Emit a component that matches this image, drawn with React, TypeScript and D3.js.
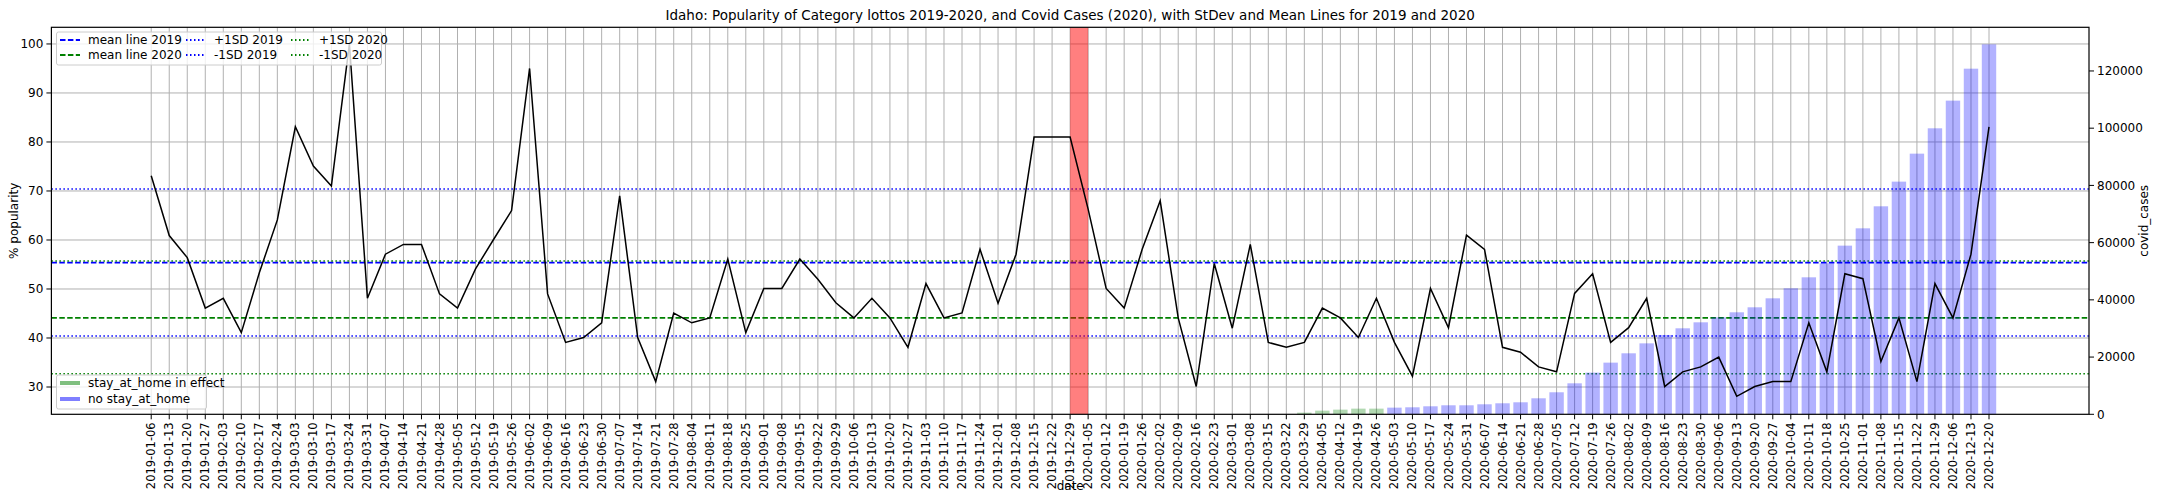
import React from "react";
import * as d3 from "d3";

const popularity = [73.1,60.9,56.4,46.1,48.1,41.1,53.3,64.1,83.1,75.1,71.0,100,48.1,57.1,59.1,59.1,49.0,46.1,54.1,60.1,66.0,95.0,49.0,39.1,40.1,43.1,69.0,40.1,31.1,45.1,43.1,44.1,
56.1,41.1,50.1,50.1,56.1,52.0,47.2,44.1,48.1,44.1,38.1,51.1,44.1,45.1,58.1,47.1,57.1,81.0,81.0,81.0,
66.3,50.1,46.1,58.1,68.0,44.1,30.1,55.2,42.0,59.1,39.1,38.1,39.1,46.1,44.1,40.1,48.1,39.1,32.2,
50.1,42.1,61.0,58.1,38.1,37.1,34.1,33.1,49.1,53.1,39.1,42.1,48.1,30.1,33.1,34.1,36.1,28.1,30.1,31.1,31.1,43.1,33.1,53.1,52.1,35.2,44.1,31.1,51.1,44.1,57.1,83.1];

// covid cases for 2020-03-29 .. 2020-12-20
const covidStart = "2020-03-29";
const covidCases = [580,1280,1630,1980,1980,2330,2446,2800,3150,3150,3500,3850,4200,5600,7700,10830,14560,18060,21320,24800,27730,30060,32150,33900,35650,37400,40540,44040,47880,52770,58950,65000,72700,81320,91100,99960,109630,120800,129300];
const stayStart = "2020-03-29";
const stayEnd = "2020-04-26";

const mean2019 = 55.4, plus2019 = 70.4, minus2019 = 40.4;
const mean2020 = 44.1, plus2020 = 55.7, minus2020 = 32.7;
const leftTicks = [30,40,50,60,70,80,90,100];
const rightTicks = [0,20000,40000,60000,80000,100000,120000];

const fmt = d3.timeFormat("%Y-%m-%d");
const dates: string[] = d3.timeWeek.range(new Date(2019,0,6), new Date(2020,11,21)).map(fmt);

export default function App() {
  const W = 2160, H = 504;
  const L = 51.4, R = 2089, T = 27.3, B = 414.3;
  const x = d3.scaleLinear().domain([-5.54, 107.55]).range([L, R]);
  const y = d3.scaleLinear().domain([24.43, 103.4]).range([B, T]);
  const y2 = d3.scaleLinear().domain([0, 135260]).range([B, T]);
  const ci = dates.indexOf(covidStart);
  const s0 = dates.indexOf(stayStart), s1 = dates.indexOf(stayEnd);
  const line = d3.line<number>().x((_, i) => x(i)).y(d => y(d));
  const bw = 0.8 * (x(1) - x(0));
  const font = "DejaVu Sans, sans-serif";
  const hl = (v: number, c: string, dash: string, w = 1.5) => (
    <line x1={L} x2={R} y1={y(v)} y2={y(v)} stroke={c} strokeWidth={w} strokeDasharray={dash} />
  );
  return (
    <svg width={W} height={H} style={{ position: "absolute", left: 0, top: 0 }} fontFamily={font}>
      <rect width={W} height={H} fill="#fff" />
      {dates.map((d, i) => <line key={d} x1={x(i)} x2={x(i)} y1={T} y2={B} stroke="#b0b0b0" strokeWidth={1} />)}
      {leftTicks.map(t => <line key={t} x1={L} x2={R} y1={y(t)} y2={y(t)} stroke="#b0b0b0" strokeWidth={1} />)}
      {hl(mean2019, "#0000ff", "5.5,2.4", 1.8)}
      {hl(mean2020, "#008000", "5.5,2.4", 1.8)}
      {hl(plus2019, "#0000ff", "1.5,2.5")}
      {hl(minus2019, "#0000ff", "1.5,2.5")}
      {hl(plus2020, "#008000", "1.5,2.5")}
      {hl(minus2020, "#008000", "1.5,2.5")}
      {covidCases.map((v, k) => {
        const i = ci + k;
        const g = i >= s0 && i <= s1;
        return <rect key={i} x={x(i) - bw / 2} width={bw} y={y2(v)} height={B - y2(v)} fill={g ? "#008000" : "#0000ff"} fillOpacity={0.3} />;
      })}
      <rect x={x(51)} width={x(52) - x(51)} y={T} height={B - T} fill="#ff0000" fillOpacity={0.5} />
      <path d={line(popularity) || ""} fill="none" stroke="#000" strokeWidth={1.5} />
      <rect x={L} y={T} width={R - L} height={B - T} fill="none" stroke="#000" strokeWidth={1.2} />
      {leftTicks.map(t => (
        <g key={t}>
          <line x1={L - 5} x2={L} y1={y(t)} y2={y(t)} stroke="#000" />
          <text x={L - 8} y={y(t)} dy="0.35em" textAnchor="end" fontSize={12}>{t}</text>
        </g>
      ))}
      {rightTicks.map(t => (
        <g key={t}>
          <line x1={R} x2={R + 5} y1={y2(t)} y2={y2(t)} stroke="#000" />
          <text x={R + 8} y={y2(t)} dy="0.35em" fontSize={12}>{t}</text>
        </g>
      ))}
      {dates.map((d, i) => (
        <g key={d}>
          <line x1={x(i)} x2={x(i)} y1={B} y2={B + 5} stroke="#000" />
          <text transform={`translate(${x(i)},${B + 8}) rotate(-90)`} dy="0.35em" textAnchor="end" fontSize={11.5}>{d}</text>
        </g>
      ))}
      <text x={(L + R) / 2} y={20} textAnchor="middle" fontSize={13.5}>Idaho: Popularity of Category lottos 2019-2020, and Covid Cases (2020), with StDev and Mean Lines for 2019 and 2020</text>
      <text x={(L + R) / 2} y={490} textAnchor="middle" fontSize={12}>date</text>
      <text transform={`translate(14,${(T + B) / 2}) rotate(-90)`} dy="0.35em" textAnchor="middle" fontSize={12}>% popularity</text>
      <text transform={`translate(2144,${(T + B) / 2}) rotate(-90)`} dy="0.35em" textAnchor="middle" fontSize={12}>covid_cases</text>
      <g>
        <rect x={56.5} y={32} width={325} height={33} fill="#fff" fillOpacity={0.8} stroke="#ccc" rx={2} />
        {[
          [60, 40, "#0000ff", "5.5,2.4", "mean line 2019"],
          [60, 55, "#008000", "5.5,2.4", "mean line 2020"],
          [186, 40, "#0000ff", "1.5,2.5", "+1SD 2019"],
          [186, 55, "#0000ff", "1.5,2.5", "-1SD 2019"],
          [291, 40, "#008000", "1.5,2.5", "+1SD 2020"],
          [291, 55, "#008000", "1.5,2.5", "-1SD 2020"],
        ].map(([lx, ly, c, da, t]) => (
          <g key={t as string}>
            <line x1={lx as number} x2={(lx as number) + 20} y1={ly as number} y2={ly as number} stroke={c as string} strokeWidth={1.8} strokeDasharray={da as string} />
            <text x={(lx as number) + 28} y={ly as number} dy="0.35em" fontSize={12}>{t}</text>
          </g>
        ))}
      </g>
      <g>
        <rect x={56.5} y={375} width={150} height={34} fill="#fff" fillOpacity={0.8} stroke="#ccc" rx={2} />
        <line x1={60} x2={80} y1={383} y2={383} stroke="#008000" strokeOpacity={0.5} strokeWidth={4} />
        <text x={88} y={383} dy="0.35em" fontSize={12}>stay_at_home in effect</text>
        <line x1={60} x2={80} y1={399} y2={399} stroke="#0000ff" strokeOpacity={0.5} strokeWidth={4} />
        <text x={88} y={399} dy="0.35em" fontSize={12}>no stay_at_home</text>
      </g>
    </svg>
  );
}
